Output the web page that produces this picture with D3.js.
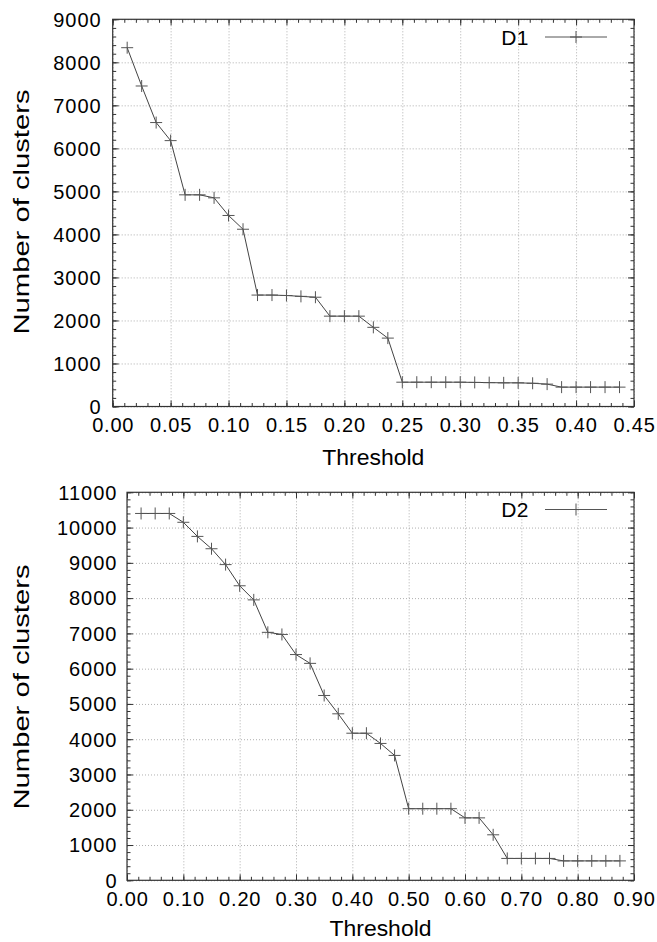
<!DOCTYPE html>
<html>
<head>
<meta charset="utf-8">
<script src="https://cdn.jsdelivr.net/npm/d3@7"></script>
<style>
  body { margin: 0; background: #fff; }
  text { font-family: "Liberation Sans", Arial, Helvetica, sans-serif; fill: #000; }
</style>
</head>
<body>
<div id="svg_chart"></div>
<script>
///////////// data //////////////
var d1_threshold = [0.0125, 0.025, 0.0375, 0.05, 0.0625, 0.075, 0.0875, 0.1, 0.1125, 0.125,
  0.1375, 0.15, 0.1625, 0.175, 0.1875, 0.2, 0.2125, 0.225, 0.2375, 0.25,
  0.2625, 0.275, 0.2875, 0.3, 0.3125, 0.325, 0.3375, 0.35, 0.3625, 0.375,
  0.3875, 0.4, 0.4125, 0.425, 0.4375];
var d1_clusters = [8340, 7450, 6600, 6180, 4920, 4920, 4850, 4440, 4120, 2590,
  2590, 2580, 2560, 2540, 2100, 2100, 2100, 1840, 1590, 565,
  565, 565, 565, 565, 560, 555, 550, 550, 540, 520,
  450, 450, 450, 450, 450];

var d2_threshold = [0.025, 0.05, 0.075, 0.1, 0.125, 0.15, 0.175, 0.2, 0.225, 0.25,
  0.275, 0.3, 0.325, 0.35, 0.375, 0.4, 0.425, 0.45, 0.475, 0.5,
  0.525, 0.55, 0.575, 0.6, 0.625, 0.65, 0.675, 0.7, 0.725, 0.75,
  0.775, 0.8, 0.825, 0.85, 0.875];
var d2_clusters = [10400, 10400, 10400, 10150, 9750, 9400, 8950, 8350, 7950, 7030,
  6970, 6400, 6150, 5240, 4720, 4170, 4170, 3880, 3540, 2030,
  2030, 2030, 2030, 1770, 1770, 1290, 620, 620, 620, 620,
  550, 550, 550, 550, 550];

var d1_xticks = [0, 0.05, 0.10, 0.15, 0.20, 0.25, 0.30, 0.35, 0.40, 0.45];
var d1_yticks = [0, 1000, 2000, 3000, 4000, 5000, 6000, 7000, 8000, 9000];
var d2_xticks = [0, 0.1, 0.2, 0.3, 0.4, 0.5, 0.6, 0.7, 0.8, 0.9];
var d2_yticks = [0, 1000, 2000, 3000, 4000, 5000, 6000, 7000, 8000, 9000, 10000, 11000];
///////////// end data //////////////

const svg_width = 657, svg_height = 942;
var svg = d3.select('#svg_chart').append('svg')
  .attr('width', svg_width)
  .attr('height', svg_height);

var panels = [
  { name: 'D1', xs: d1_threshold, ys: d1_clusters, xticks: d1_xticks, yticks: d1_yticks,
    xmax: 0.45, ymax: 9000, xminor: 0.01, yminor: 200,
    left: 112.7, right: 634, top: 19.3, bottom: 406.5, ylabelGap: 11,
    xlabelY: 432, xtitleY: 465, ytitleY: 212, legendY: 37 },
  { name: 'D2', xs: d2_threshold, ys: d2_clusters, xticks: d2_xticks, yticks: d2_yticks,
    xmax: 0.9, ymax: 11000, xminor: 0.02, yminor: 200,
    left: 127, right: 634, top: 492.3, bottom: 880.3, ylabelGap: 9.5,
    xlabelY: 906, xtitleY: 936, ytitleY: 687, legendY: 509.5 }
];

panels.forEach(draw_panel);

function draw_panel(p) {
  var w = p.right - p.left, h = p.bottom - p.top;
  var x = d3.scaleLinear().domain([0, p.xmax]).range([0, w]);
  var y = d3.scaleLinear().domain([0, p.ymax]).range([h, 0]);
  var xminor = d3.range(0, p.xmax + 1e-9, p.xminor);
  var yminor = d3.range(0, p.ymax + 1e-9, p.yminor);

  var g = svg.append('g').attr('transform', `translate(${p.left},${p.top})`);

  // grid
  g.append('g').attr('class', 'grid')
    .call(d3.axisBottom(x).tickValues(p.xticks).tickSize(h).tickFormat(''));
  g.append('g').attr('class', 'grid')
    .call(d3.axisLeft(y).tickValues(p.yticks).tickSize(-w).tickFormat(''));
  g.selectAll('.grid .domain').remove();
  g.selectAll('.grid line')
    .attr('stroke', '#9a9a9a')
    .attr('stroke-width', 0.8)
    .attr('stroke-dasharray', '1,2');

  // inward ticks on all four sides
  var tickAxes = [
    [function() { return d3.axisBottom(x); }, `translate(0,${h})`, 1],
    [function() { return d3.axisTop(x); }, 'translate(0,0)', 1],
    [function() { return d3.axisLeft(y); }, 'translate(0,0)', 0],
    [function() { return d3.axisRight(y); }, `translate(${w},0)`, 0]
  ];
  tickAxes.forEach(function(a) {
    var minorVals = a[2] ? xminor : yminor;
    var majorVals = a[2] ? p.xticks : p.yticks;
    g.append('g').attr('class', 'ticks').attr('transform', a[1])
      .call(a[0]().tickValues(minorVals).tickSize(-3.5).tickFormat(''));
    g.append('g').attr('class', 'ticks').attr('transform', a[1])
      .call(a[0]().tickValues(majorVals).tickSize(-6).tickFormat(''));
  });
  g.selectAll('.ticks .domain').remove();
  g.selectAll('.ticks line').attr('stroke', '#333').attr('stroke-width', 1);

  // tick labels
  var xl = g.append('g')
    .attr('transform', `translate(0,${h})`)
    .call(d3.axisBottom(x).tickValues(p.xticks).tickSize(0).tickPadding(0).tickFormat(d3.format('.2f')));
  xl.select('.domain').remove();
  xl.selectAll('text')
    .attr('y', p.xlabelY - p.bottom).attr('dy', null)
    .style('font-size', '20px').style('letter-spacing', '0.8px')
    .attr('fill', '#000');

  var yl = g.append('g')
    .call(d3.axisLeft(y).tickValues(p.yticks).tickSize(0).tickPadding(p.ylabelGap).tickFormat(d3.format('d')));
  yl.select('.domain').remove();
  yl.selectAll('text')
    .attr('dy', '0.34em')
    .style('font-size', '20px').style('letter-spacing', '1px')
    .attr('fill', '#000');

  // frame
  g.append('rect')
    .attr('width', w).attr('height', h)
    .attr('fill', 'none')
    .attr('stroke', '#333').attr('stroke-width', 1.2);

  // axis titles
  svg.append('text')
    .attr('x', (p.left + p.right) / 2)
    .attr('y', p.xtitleY)
    .attr('text-anchor', 'middle')
    .attr('textLength', 102).attr('lengthAdjust', 'spacingAndGlyphs')
    .style('font-size', '22px')
    .text('Threshold');
  svg.append('text')
    .attr('transform', `translate(29,${p.ytitleY}) rotate(-90)`)
    .attr('text-anchor', 'middle')
    .attr('textLength', 245).attr('lengthAdjust', 'spacingAndGlyphs')
    .style('font-size', '22px')
    .text('Number of clusters');

  // data line and markers
  var pts = p.xs.map(function(v, i) { return [v, p.ys[i]]; });
  var line = d3.line().x(d => x(d[0])).y(d => y(d[1]));
  g.append('path')
    .datum(pts)
    .attr('fill', 'none')
    .attr('stroke', '#444')
    .attr('stroke-width', 1)
    .attr('d', line);

  var ms = 6;
  g.selectAll('.mark').data(pts).enter().append('path')
    .attr('class', 'mark')
    .attr('transform', d => `translate(${x(d[0])},${y(d[1])})`)
    .attr('d', `M${-ms},0H${ms}M0,${-ms}V${ms}`)
    .attr('stroke', '#555')
    .attr('stroke-width', 1)
    .attr('fill', 'none');

  // legend
  var lg = svg.append('g');
  lg.append('text')
    .attr('x', 529).attr('y', p.legendY + 7.5)
    .attr('text-anchor', 'end')
    .style('font-size', '21px').style('letter-spacing', '0.5px')
    .text(p.name);
  lg.append('line')
    .attr('x1', 545).attr('x2', 607)
    .attr('y1', p.legendY).attr('y2', p.legendY)
    .attr('stroke', '#555').attr('stroke-width', 1);
  lg.append('path')
    .attr('transform', `translate(576,${p.legendY})`)
    .attr('d', `M${-ms},0H${ms}M0,${-ms}V${ms}`)
    .attr('stroke', '#555').attr('stroke-width', 1);
}
</script>
</body>
</html>
